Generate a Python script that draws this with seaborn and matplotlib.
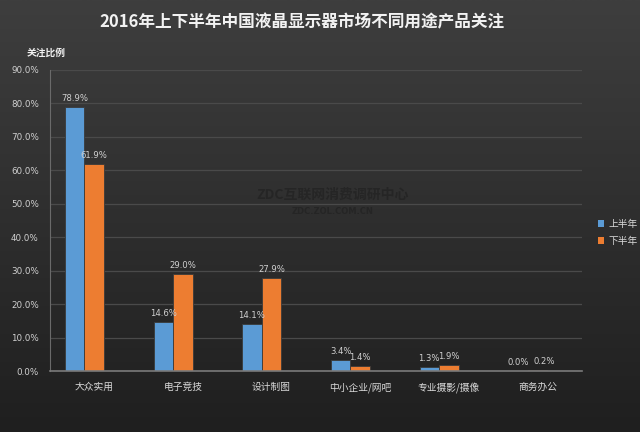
import numpy as np
import pandas as pd
import matplotlib
matplotlib.use("Agg")
import matplotlib.pyplot as plt
import seaborn as sns
from matplotlib.colors import LinearSegmentedColormap
from matplotlib.patches import Patch

categories = ["大众实用", "电子竞技", "设计制图", "中小企业/网吧", "专业摄影/摄像", "商务办公"]
first_half = [78.9, 14.6, 14.1, 3.4, 1.3, 0.0]
second_half = [61.9, 29.0, 27.9, 1.4, 1.9, 0.2]
series_names = ["上半年", "下半年"]
yticks = [0, 10, 20, 30, 40, 50, 60, 70, 80, 90]

sns.set_style("white")
plt.rcParams['font.family'] = ['Noto Sans CJK SC', 'DejaVu Sans']

df = pd.DataFrame({
    "cat": categories * 2,
    "val": first_half + second_half,
    "half": [series_names[0]] * len(categories) + [series_names[1]] * len(categories),
})
# the source chart reserves an empty third slot in every group
hue_order = series_names + ["_empty"]

fig = plt.figure(figsize=(6.4, 4.32), dpi=100)
bg = fig.add_axes([0, 0, 1, 1], zorder=-10)
grad = np.linspace(0, 1, 256).reshape(-1, 1)
cmap = LinearSegmentedColormap.from_list("bg", ["#3e3e3e", "#1f1f1f"])
bg.imshow(grad, aspect="auto", cmap=cmap, extent=[0, 1, 0, 1], origin="upper")
bg.axis("off")

ax = fig.add_axes([0.078, 0.141, 0.831, 0.697])
ax.set_facecolor("none")
sns.barplot(data=df, x="cat", y="val", hue="half", hue_order=hue_order,
            palette=["#5b9bd5", "#ed7d31", "#000000"], saturation=1,
            width=0.66, ax=ax, edgecolor="#3a3a3a", linewidth=0.6, legend=False)

for k, cont in enumerate(ax.containers[:2]):
    anns = ax.bar_label(cont, labels=[f"{v:.1f}%" for v in cont.datavalues],
                        padding=3, fontsize=6.1, color="#d0d0d0", family="DejaVu Sans")
    if k == 1:
        # the last orange label sits a little to the right in the source
        anns[-1].xyann = (5, 3)

ax.set_xlim(-0.5, len(categories) - 0.5)
ax.set_ylim(0, 90)
ax.set_yticks(yticks)
ax.set_yticklabels([f"{t:.1f}%" for t in yticks], family="DejaVu Sans")
ax.tick_params(axis="y", labelsize=6.3, colors="#d0d0d0", length=0, pad=8)
ax.tick_params(axis="x", labelsize=7, colors="#d9d9d9", length=0, pad=8)
ax.set_xlabel("")
ax.set_ylabel("")
ax.grid(axis="y", color="#4a4a4a", linewidth=0.9)
ax.set_axisbelow(True)
for s in ["top", "right"]:
    ax.spines[s].set_visible(False)
ax.spines["left"].set_color("#6a6a6a")
ax.spines["bottom"].set_color("#7a7a7a")
ax.spines["bottom"].set_linewidth(1.2)

fig.text(0.472, 0.948, "2016年上下半年中国液晶显示器市场不同用途产品关注", ha="center", va="center",
         fontsize=12, fontweight="bold", color="#f2f2f2")
fig.text(0.041, 0.878, "关注比例", ha="left", va="center", fontsize=7, fontweight="bold", color="#f0f0f0")

fig.text(0.519, 0.548, "ZDC互联网消费调研中心", ha="center", va="center", fontsize=10,
         fontweight="bold", color="#252525")
fig.text(0.519, 0.510, "ZDC.ZOL.COM.CN", ha="center", va="center", fontsize=6,
         fontweight="bold", color="#252525", family="DejaVu Sans")

handles = [Patch(facecolor="#5b9bd5", edgecolor="none"), Patch(facecolor="#ed7d31", edgecolor="none")]
fig.legend(handles, series_names, loc="center left", bbox_to_anchor=(0.920, 0.462), frameon=False,
           fontsize=7, labelcolor="#d9d9d9", handlelength=0.7, handleheight=0.7, handletextpad=0.4,
           labelspacing=0.8)

fig.savefig("out.png", dpi=100)
